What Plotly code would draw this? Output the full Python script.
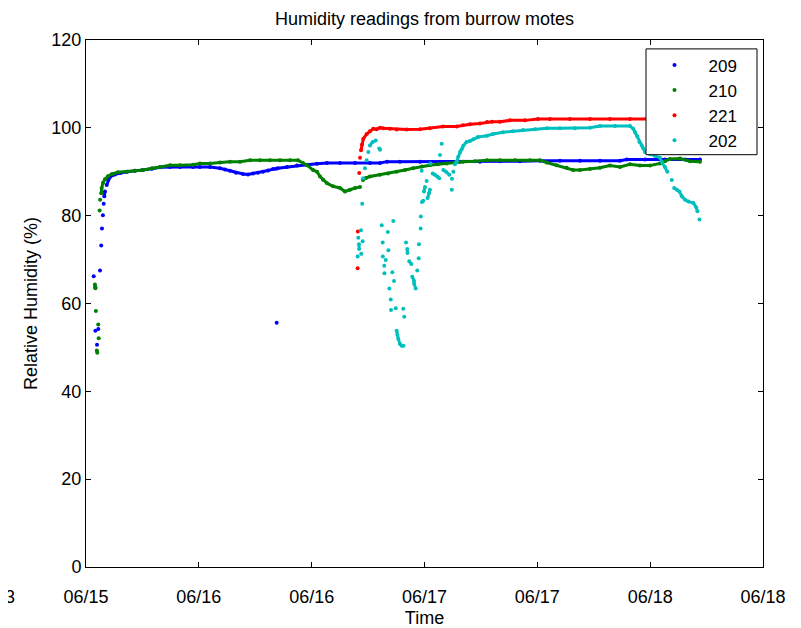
import plotly.graph_objects as go
import pandas as pd

# ---------------- data (hours since 06/15 12:00, relative humidity %) ----------------
start = pd.Timestamp("2008-06-15 12:00")

t209 = [0.82, 0.99, 1.00, 1.17, 1.31, 1.49, 1.62, 1.70, 1.80, 1.88, 1.95, 2.02, 2.20, 2.37, 2.55,
        3.08, 3.62, 4.36, 5.21, 6.06, 7.02, 7.87, 8.93, 9.99, 11.38, 12.12, 13.19, 14.25, 14.78,
        15.31, 15.95, 16.70, 17.23, 17.76, 18.29, 18.82, 19.36, 19.89, 20.20, 20.28, 20.40, 21.38,
        22.44, 23.50, 24.57, 25.63, 27.01, 28.61, 30.20, 31.27, 32.01, 33.39, 35.52, 37.65, 39.77,
        41.90, 44.03, 46.16, 48.28, 50.41, 52.54, 54.66, 56.79, 57.53, 59.45, 61.58, 63.70, 65.30]
v209 = [66.2, 63.7, 53.8, 50.6, 54.2, 67.5, 73.2, 77.1, 80.1, 82.7, 84.4, 85.5, 87.0, 88.1, 88.8,
        89.4, 89.7, 90.0, 90.2, 90.4, 90.7, 91.0, 91.1, 91.1, 91.1, 91.1, 91.1, 90.8, 90.5,
        90.2, 89.8, 89.5, 89.4, 89.6, 89.8, 90.0, 90.3, 90.6, 90.7, 55.6, 90.8, 91.1,
        91.4, 91.6, 91.8, 92.0, 92.0, 92.0, 92.0, 92.0, 92.3, 92.3, 92.3, 92.3, 92.3,
        92.3, 92.4, 92.4, 92.5, 92.5, 92.5, 92.5, 92.5, 92.8, 92.8, 92.8, 92.8, 92.8]

t210 = [0.95, 1.00, 1.05, 1.15, 1.20, 1.30, 1.35, 1.45, 1.50, 1.62, 1.67, 1.81, 2.02, 2.34, 2.77,
        3.40, 4.36, 5.21, 6.06, 7.02, 7.87, 8.93, 9.99, 11.38, 12.12, 13.19, 14.25, 15.31, 16.38,
        17.44, 18.50, 19.57, 20.63, 21.70, 22.55, 23.08, 23.50, 24.14, 24.57, 24.89, 25.21, 25.63,
        26.27, 27.01, 27.54, 28.08, 28.61, 29.14, 29.46, 29.78, 30.20, 31.27, 32.12, 33.04, 33.93,
        34.78, 35.73, 36.58, 37.43, 38.36, 39.24, 40.09, 41.37, 42.65, 44.03, 45.63, 47.22, 48.28,
        48.99, 50.06, 51.12, 51.79, 52.54, 53.60, 54.66, 55.72, 56.79, 57.85, 58.92, 59.98, 61.04,
        61.58, 62.11, 63.18, 64.23, 65.30]
v210 = [64.3, 63.5, 58.3, 49.3, 48.8, 55.2, 52.1, 81.2, 83.6, 85.1, 86.3, 87.5, 88.3, 89.0, 89.5,
        89.9, 90.0, 90.2, 90.4, 90.8, 91.1, 91.5, 91.5, 91.6, 91.9, 91.9, 92.1, 92.3, 92.3,
        92.6, 92.6, 92.6, 92.6, 92.6, 92.6, 92.0, 91.5, 90.4, 90.0, 88.9, 88.2, 87.4,
        86.7, 86.3, 85.5, 85.9, 86.3, 86.5, 88.1, 88.6, 88.9, 89.3, 89.6, 90.0, 90.4,
        90.8, 91.2, 91.5, 91.7, 91.9, 92.1, 92.3, 92.4, 92.6, 92.6, 92.6, 92.6, 92.6,
        92.1, 91.5, 90.9, 90.4, 90.4, 90.6, 90.9, 91.4, 91.1, 91.7, 91.4, 91.4, 91.9,
        92.4, 92.9, 93.0, 92.4, 92.3]

t221 = [28.89, 28.91, 29.06, 29.14, 29.25, 29.35, 29.49, 29.85, 30.20, 30.55, 30.91, 31.27, 31.62,
        32.33, 33.04, 34.10, 35.52, 36.58, 37.97, 39.42, 40.09, 40.84, 41.90, 42.65, 43.18, 44.03,
        45.09, 46.69, 48.07, 49.35, 51.47, 53.60, 55.72, 57.85, 59.98, 62.11, 64.23, 65.30]
v221 = [68.0, 76.4, 89.7, 93.2, 94.9, 96.2, 97.5, 98.6, 99.2, 99.8, 99.7, 100.0, 99.9,
        99.8, 99.6, 99.6, 99.7, 99.9, 100.3, 100.3, 100.6, 100.8, 101.0, 101.3, 101.4, 101.4,
        101.7, 101.7, 102.0, 102.0, 102.0, 102.0, 102.0, 102.0, 102.0, 102.0, 102.0, 102.0]

t202 = [28.89, 28.96, 29.03, 29.05, 29.25, 29.27, 29.38, 29.42, 29.49, 29.67, 29.85, 30.03, 30.20,
        30.49, 30.81, 31.19, 31.27, 31.45, 31.55, 31.57, 31.72, 31.74, 31.88, 32.10, 32.16, 32.26,
        32.41, 32.44, 32.58, 32.68, 32.76, 32.94, 33.04, 33.11, 33.21, 33.39, 33.57, 33.74, 33.76,
        33.85, 34.03, 34.17, 34.19, 34.38, 34.60, 34.70, 34.88, 34.90, 35.06, 35.23, 35.38, 35.41,
        35.59, 35.61, 35.70, 35.73, 35.87, 35.95, 36.05, 36.23, 36.33, 36.48, 36.58, 36.63, 36.87,
        37.12, 37.36, 37.57, 37.65, 37.83, 38.00, 38.29, 38.64, 38.90, 38.92, 39.07, 39.24, 39.42,
        39.59, 39.77, 39.95, 40.12, 40.48, 40.84, 41.19, 41.69, 42.65, 43.28, 44.35, 45.41, 46.48,
        47.75, 49.03, 50.41, 52.00, 53.60, 54.66, 56.26, 57.85, 58.21, 58.39, 58.63, 58.85, 59.10,
        59.27, 59.45, 59.98, 60.51, 61.04, 61.22, 61.58, 61.83, 62.30, 62.55, 62.83, 63.11, 63.37,
        63.72, 64.07, 64.60, 64.89, 65.03, 65.24]
v202 = [70.7, 75.0, 73.5, 72.4, 76.7, 71.3, 82.7, 74.2, 88.5, 90.8, 92.6, 94.5, 96.0,
        96.8, 97.1, 95.3, 95.0, 77.8, 73.9, 70.7, 68.6, 66.9, 69.9, 76.3, 72.1, 63.4,
        60.9, 58.5, 67.1, 78.8, 65.1, 58.9, 53.8, 52.9, 52.0, 50.8, 50.4, 58.8, 50.4,
        57.0, 73.9, 72.4, 71.5, 69.6, 69.0, 66.1, 65.2, 64.5, 63.4, 67.5, 70.3, 73.5,
        77.1, 79.8, 90.2, 83.1, 83.4, 85.5, 86.5, 87.9, 84.0, 85.1, 85.9, 91.9, 89.6,
        89.3, 88.9, 88.5, 93.8, 96.4, 90.4, 90.0, 89.3, 85.9, 88.4, 90.0, 91.7, 92.3,
        93.4, 94.5, 95.1, 95.9, 96.8, 97.0, 97.4, 97.9, 98.2, 98.6, 99.0, 99.2, 99.5,
        99.7, 99.9, 99.9, 99.9, 100.0, 100.4, 100.4, 100.4, 99.8, 99.0, 98.1, 96.8, 96.0,
        95.3, 94.5, 94.0, 93.6, 93.2, 92.3, 91.1, 90.0, 88.1, 86.3, 85.9, 85.5, 84.4,
        83.6, 83.2, 82.9, 81.9, 81.0, 79.1]

series = [("209", t209, v209, "#0000FF"),
          ("210", t210, v210, "#008000"),
          ("221", t221, v221, "#FF0000"),
          ("202", t202, v202, "#00BFBF")]

FONT = "Liberation Sans, Arial, Helvetica, sans-serif"
FS = 18
LFS = 17

# page body adds an 8px offset; plot area wanted on screen at x 86..763, y 40..573
BODY = 8
SX0, SX1, SY0, SY1 = 86, 763, 40, 573
W, H = 801, 628


def sx(px):  # screen x -> paper x
    return (px - SX0) / (SX1 - SX0)


def sy(py):  # screen y -> paper y
    return (SY1 - py) / (SY1 - SY0)


def to_time(hours):
    return [start + pd.Timedelta(hours=h) for h in hours]


def dense_runs(hours, vals, max_dt=4.0, max_dv=1.3):
    xs, ys = [], []
    for i, (h, v) in enumerate(zip(hours, vals)):
        if i > 0 and (h - hours[i - 1] > max_dt or abs(v - vals[i - 1]) > max_dv):
            xs.append(None)
            ys.append(None)
        xs.append(start + pd.Timedelta(hours=h))
        ys.append(v)
    return xs, ys


fig = go.Figure()
for name, t, v, col in series:
    lx, ly = dense_runs(t, v)
    fig.add_trace(go.Scatter(x=lx, y=ly, mode="lines", line=dict(color=col, width=3),
                             showlegend=False, hoverinfo="skip", connectgaps=False))
    fig.add_trace(go.Scatter(x=to_time(t), y=v, mode="markers", name=name,
                             marker=dict(color=col, size=4)))

axis_common = dict(showline=True, linecolor="black", linewidth=1, mirror="ticks",
                   ticks="inside", ticklen=5, tickcolor="black", showgrid=False,
                   zeroline=False, tickfont=dict(family=FONT, size=FS, color="black"))

fig.update_xaxes(type="date", range=[start, start + pd.Timedelta(hours=72)],
                 tick0=start, dtick=12 * 3600 * 1000, tickformat="%m/%d",
                 ticklabelstandoff=13,
                 title=dict(text="Time", font=dict(family=FONT, size=FS, color="black"), standoff=5),
                 **axis_common)
fig.update_yaxes(range=[0, 120], dtick=20, tick0=0,
                 title=dict(text="Relative Humidity (%)", font=dict(family=FONT, size=FS, color="black"), standoff=9),
                 **axis_common)

# partially visible tick label at the far left edge
fig.add_annotation(text="06/13", xref="paper", yref="paper", x=sx(17), y=sy(603),
                   xanchor="right", yanchor="middle", showarrow=False,
                   font=dict(family=FONT, size=FS, color="black"))

# opaque legend box (MATLAB style), drawn above the data
fig.add_shape(type="rect", xref="paper", yref="paper",
              x0=sx(646), x1=sx(757), y0=sy(156), y1=sy(49),
              fillcolor="white", line=dict(color="black", width=1), layer="above")

fig.update_layout(
    width=W, height=H,
    margin=dict(l=SX0 - BODY, r=W - (SX1 - BODY), t=SY0 - BODY, b=H - (SY1 - BODY)),
    paper_bgcolor="white", plot_bgcolor="white",
    font=dict(family=FONT, size=FS, color="black"),
    title=dict(text="Humidity readings from burrow motes", x=0.5, xref="paper",
               y=1 - (19 - BODY) / H, yref="container", yanchor="middle",
               font=dict(family=FONT, size=FS, color="black")),
    legend=dict(x=sx(640.5), y=sy(47.5), xanchor="left", yanchor="top",
                bgcolor="rgba(0,0,0,0)", borderwidth=0,
                itemwidth=58, font=dict(family=FONT, size=LFS, color="black")),
    hovermode=False,
)

fig.write_html("out.html")
